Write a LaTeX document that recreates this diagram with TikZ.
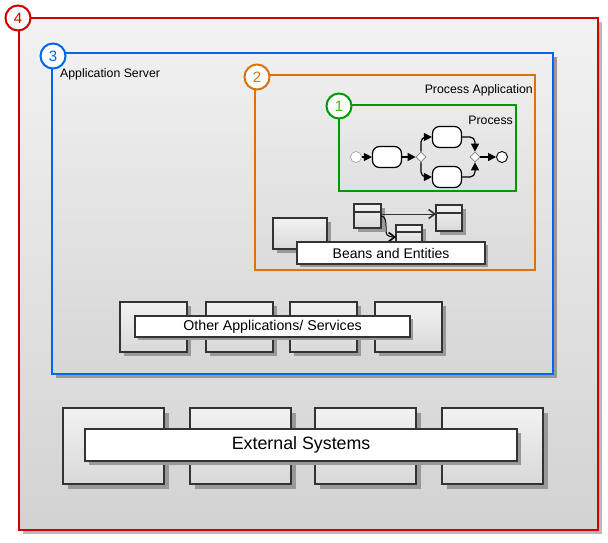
\documentclass[tikz,border=0pt]{standalone}
\usepackage{fontspec}
\setmainfont{Liberation Sans}
\usetikzlibrary{arrows.meta,shapes.geometric,calc}
\definecolor{cred}{HTML}{CC0000}
\definecolor{cblue}{HTML}{0066EE}
\definecolor{corange}{HTML}{D9730D}
\definecolor{cgreen}{HTML}{009900}
\definecolor{cdark}{HTML}{333333}
\definecolor{cshadow}{HTML}{999999}
\tikzset{
  badge/.style={circle, draw, fill=white, line width=2pt, minimum size=25pt, inner sep=0pt, font=\fontsize{15}{17}\selectfont},
  sysbox/.style={draw=cdark, line width=2.2pt, top color=gray!10, bottom color=gray!30},
  labelbox/.style={draw=cdark, line width=2.2pt, fill=white},
  task/.style={draw=black, line width=1.2pt, fill=white, rounded corners=7pt},
  gw/.style={diamond, draw=gray, fill=white, minimum size=10pt, inner sep=0pt, line width=0.7pt},
  evt/.style={circle, inner sep=0pt, minimum size=11pt, fill=white},
  flow/.style={-{Triangle[length=8pt,width=8pt]}, line width=1.2pt, black},
  txt/.style={font=\fontsize{12.3}{14}\selectfont, text=black, inner sep=0pt},
}
\begin{document}
\begin{tikzpicture}[x=1pt,y=-1pt]
\useasboundingbox (0,0) rectangle (608,542);
\fill[white] (0,0) rectangle (608,542);
% red container
\fill[gray!55] (23,22) rectangle (602,534);
\draw[line width=2pt, draw=cred, top color=gray!10, bottom color=gray!35] (19,18) rectangle (598,530);
% blue container
\fill[cshadow] (56,57) rectangle (557,378);
\draw[line width=2pt, draw=cblue, top color=gray!12, bottom color=gray!32] (52,53) rectangle (553,374);
\node[txt, anchor=west] (as) at (60,74) {Application Server};
% orange container
\fill[gray!40] (256,76) rectangle (536,271);
\draw[line width=2pt, draw=corange, top color=gray!14, bottom color=gray!28] (255,75) rectangle (535,270);
\node[txt, anchor=east] (pa) at (533,90) {Process Application};
% green container
\fill[gray!40] (340,106) rectangle (517,192);
\draw[line width=2pt, draw=cgreen, top color=gray!16, bottom color=gray!24] (339,105) rectangle (516,191);
\node[txt, anchor=east] (pr) at (513,120) {Process};
% process diagram
\node[evt, draw=gray!70, line width=0.7pt] (st) at (356,157) {};
\node[task, minimum width=29pt, minimum height=21pt] (t1) at (387,157) {};
\node[gw] (g1) at (421,157) {};
\node[task, minimum width=29pt, minimum height=21pt] (t2) at (447,137) {};
\node[task, minimum width=29pt, minimum height=21pt] (t3) at (447,177) {};
\node[gw] (g2) at (475,157) {};
\node[evt, draw=black, line width=0.9pt] (en) at (502,157) {};
\draw[flow] (st) -- (t1);
\draw[flow] (t1) -- (g1);
\draw[flow, rounded corners=5pt] (g1.north) |- (t2.west);
\draw[flow, rounded corners=5pt] (g1.south) |- (t3.west);
\draw[flow, rounded corners=5pt] (t2.east) -| (g2.north);
\draw[flow, rounded corners=5pt] (t3.east) -| (g2.south);
\draw[flow] (g2) -- (en);
% beans area
\fill[cshadow] (277,222) rectangle (331,253);
\draw[sysbox] (273,218) rectangle (327,249);
\fill[cshadow] (358,208) rectangle (385,232);
\draw[sysbox] (354,204) rectangle (381,228);
\draw[cdark, line width=1.6pt] (354,212) -- (381,212);
\fill[cshadow] (440,209) rectangle (466,235);
\draw[sysbox] (436,205) rectangle (462,231);
\draw[cdark, line width=1.6pt] (436,213) -- (462,213);
\fill[cshadow] (400,229) rectangle (426,249);
\draw[sysbox] (396,225) rectangle (422,245);
\draw[cdark, line width=1.6pt] (396,232) -- (422,232);
\coordinate (tA) at (381,214);
\coordinate (tB) at (436,214);
\coordinate (tC) at (396,237);
\draw[-{Straight Barb[length=6pt,width=9pt,line width=1.6pt]}, line width=1pt, gray!40!black] (tA) -- (tB);
\draw[-{Straight Barb[length=6pt,width=9pt,line width=1.6pt]}, line width=1pt, black] (381,216) to[out=0,in=90] (386,226) -- (386,232) to[out=-90,in=180] (tC);
\fill[cshadow] (300,245) rectangle (488,267);
\node[labelbox, minimum width=188pt, minimum height=22pt, anchor=north west, inner sep=0pt, font=\fontsize{14}{16}\selectfont] (be) at (296,241) {Beans and Entities};
% other applications
\foreach \x in {120,206,290,375}{
  \fill[cshadow] (\x+4,306) rectangle (\x+71,356);
  \draw[sysbox] (\x,302) rectangle (\x+67,352);
}
\fill[cshadow] (138,319) rectangle (413,340);
\node[labelbox, minimum width=275pt, minimum height=21pt, anchor=north west, inner sep=0pt, font=\fontsize{14.2}{16}\selectfont] (oa) at (134,315) {Other Applications/ Services};
% external systems
\foreach \x in {63,190,315,442}{
  \fill[cshadow] (\x+5,413) rectangle (\x+106,489);
  \draw[sysbox] (\x,408) rectangle (\x+101,484);
}
\fill[cshadow] (89,433) rectangle (521,465);
\node[labelbox, minimum width=432pt, minimum height=32pt, anchor=north west, inner sep=0pt, font=\fontsize{17.8}{21}\selectfont] (es) at (84,428) {External Systems};
% badges
\node[badge, draw=cred, text=cred] (b4) at (18,18) {4};
\node[badge, draw=cblue, text=cblue] (b3) at (53,56) {3};
\node[badge, draw=corange, text=corange] (b2) at (257,77) {2};
\node[badge, draw=cgreen, text=cgreen!70!yellow] (b1) at (339,106) {1};
\end{tikzpicture}
\end{document}
